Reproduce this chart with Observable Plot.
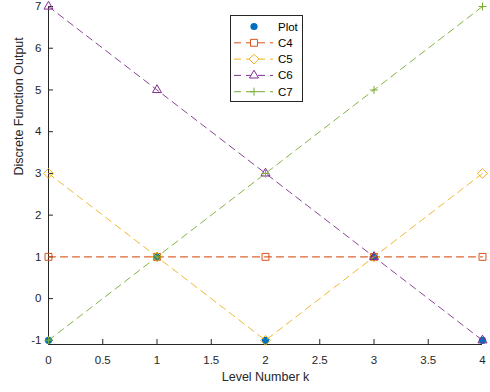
<!DOCTYPE html>
<html>
<head>
<meta charset="utf-8">
<script src="https://cdn.jsdelivr.net/npm/d3@7"></script>
<script src="https://cdn.jsdelivr.net/npm/@observablehq/plot@0.6"></script>
<style>
  html, body { margin: 0; padding: 0; background: #fff; }
  #wrap { position: relative; width: 490px; height: 392px; font-family: "Liberation Sans", Arial, sans-serif; }
  #legend { position: absolute; left: 230px; top: 15px; width: 71px; height: 85px; border: 1px solid #262626; background: #fff; }
</style>
</head>
<body>
<div id="wrap"><div id="chart"></div><svg id="legend" width="71" height="85"></svg></div>
<script>
const k = [0, 1, 2, 3, 4];
const plotVals = [-1, 1, -1, 1, -1];
const c4 = [1, 1, 1, 1, 1];
const c5 = [3, 1, -1, 1, 3];
const c6 = [7, 5, 3, 1, -1];
const c7 = [-1, 1, 3, 5, 7];
const xTicks = [0, 0.5, 1, 1.5, 2, 2.5, 3, 3.5, 4];
const yTicks = [-1, 0, 1, 2, 3, 4, 5, 6, 7];
const seriesNames = ["Plot", "C4", "C5", "C6", "C7"];

const colors = { Plot: "#0072BD", C4: "#D95319", C5: "#EDB120", C6: "#7E2F8E", C7: "#77AC30" };
const symbols = { C4: "square2", C5: "diamond2", C6: "triangle2", C7: "plus" };
const radii = { C4: 4.4, C5: 4.4, C6: 4.3, C7: 2.7 };

const rows = (name, vals) => k.map((x, i) => ({ series: name, k: x, v: vals[i] }));
const dashed = [["C4", c4], ["C5", c5], ["C6", c6], ["C7", c7]];

const marks = [
  Plot.ruleX([0], { stroke: "#262626", strokeWidth: 1 }),
  Plot.ruleY([-1.1], { stroke: "#262626", strokeWidth: 1 }),
  Plot.axisX({ ticks: xTicks, tickFormat: d => String(d), tickSize: -5, tickPadding: 16, fontSize: 11.5, label: null, color: "#262626" }),
  Plot.axisY({ ticks: yTicks, tickFormat: d => String(d), tickSize: -5, tickPadding: 12, fontSize: 11.5, label: null, color: "#262626" }),
  Plot.text(["Level Number k"], { frameAnchor: "bottom", dy: 36, fontSize: 12.5, fill: "#262626" }),
  Plot.text(["Discrete Function Output"], { frameAnchor: "left", dx: -30, rotate: -90, fontSize: 12.5, fill: "#262626" }),
  Plot.dot(rows("Plot", plotVals), { x: "k", y: "v", r: 3.6, fill: colors.Plot, stroke: null })
];
for (const [name, vals] of dashed) {
  const data = rows(name, vals);
  marks.push(Plot.line(data, { x: "k", y: "v", stroke: colors[name], strokeWidth: name === "C4" ? 1.2 : 1, strokeDasharray: "7,5", strokeOpacity: 0.9 }));
  marks.push(Plot.dot(data, { x: "k", y: "v", symbol: () => symbols[name], r: radii[name], stroke: colors[name], fill: "none", strokeWidth: 1 }));
}

const chart = Plot.plot({
  width: 490,
  height: 392,
  marginLeft: 48,
  marginRight: 8,
  marginTop: 6,
  marginBottom: 48,
  style: { fontFamily: "Liberation Sans, Arial, sans-serif", background: "#fff", overflow: "visible" },
  x: { domain: [0, 4] },
  y: { domain: [-1.1, 7] },
  marks
});
document.getElementById("chart").appendChild(chart);

// legend
const leg = d3.select("#legend");
const symMap = { square2: d3.symbolSquare2, diamond2: d3.symbolDiamond2, triangle2: d3.symbolTriangle2, plus: d3.symbolPlus };
seriesNames.forEach((name, i) => {
  const y = 10.5 + i * 16.3;
  if (name !== "Plot") {
    leg.append("line").attr("x1", 3).attr("x2", 42).attr("y1", y).attr("y2", y)
      .attr("stroke", colors[name]).attr("stroke-dasharray", "7,5").attr("stroke-width", 1);
    const r = radii[name];
    leg.append("path").attr("d", d3.symbol(symMap[symbols[name]], Math.PI * r * r)())
      .attr("transform", `translate(23,${y})`).attr("fill", "#fff").attr("stroke", colors[name]);
  } else {
    leg.append("circle").attr("cx", 23).attr("cy", y).attr("r", 3.6).attr("fill", colors.Plot);
  }
  leg.append("text").attr("x", 47).attr("y", y).attr("dy", "0.35em")
    .attr("font-size", 11.5).attr("fill", "#000").attr("font-family", "Liberation Sans, Arial, sans-serif").text(name);
});
</script>
</body>
</html>
